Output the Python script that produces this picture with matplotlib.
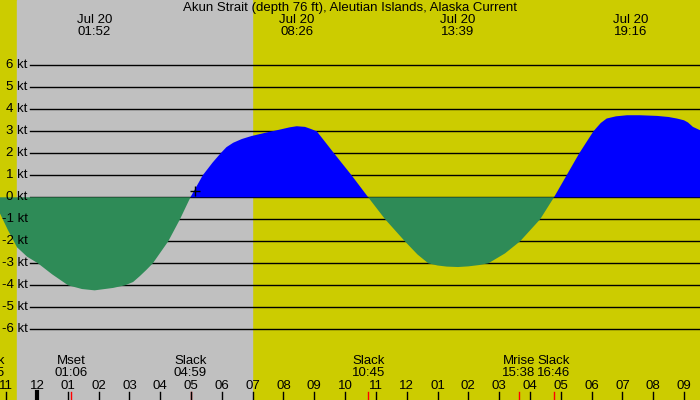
import matplotlib
matplotlib.use("Agg")
import matplotlib.pyplot as plt
import numpy as np
from matplotlib import transforms

plt.rcParams["font.family"] = ["Liberation Sans", "DejaVu Sans"]

TITLE = "Akun Strait (depth 76 ft), Aleutian Islands, Alaska Current"

# current speed (kt) vs hours after midnight Jul 20 (negative = ebb)
hours = [-1.59, -1.20, -0.94, -0.65, -0.32, 0.03, 0.49, 1.01, 1.46, 1.87,
         2.47, 2.86, 3.12, 3.34, 3.55, 3.76, 4.26, 4.64, 4.98,
         5.38, 5.70, 5.96, 6.15, 6.37, 6.65, 6.95, 7.40, 7.89, 8.20, 8.43,
         8.70, 8.90, 9.08, 9.35, 9.64, 10.21, 10.75,
         11.30, 11.94, 12.35, 12.70, 13.00, 13.30, 13.66, 14.00, 14.35,
         14.65, 15.19, 15.68, 16.33, 16.78,
         17.19, 17.60, 18.06, 18.30, 18.49, 18.79, 19.15, 19.57, 20.12,
         20.50, 20.77, 21.00, 21.13, 21.29, 21.52, 21.84]
speed = [0.0, -0.74, -1.5, -2.27, -2.70, -3.0, -3.5, -4.0, -4.17, -4.23,
         -4.12, -4.0, -3.85, -3.58, -3.30, -3.0, -2.0, -1.0, 0.0,
         1.0, 1.58, 2.0, 2.28, 2.48, 2.65, 2.78, 2.93, 3.08, 3.18, 3.23,
         3.20, 3.10, 3.0, 2.52, 2.0, 1.0, 0.0,
         -1.0, -2.0, -2.60, -3.0, -3.10, -3.15, -3.17, -3.14, -3.08,
         -3.0, -2.55, -2.0, -1.0, 0.0,
         1.0, 2.0, 3.0, 3.38, 3.58, 3.68, 3.73, 3.73, 3.70,
         3.65, 3.58, 3.50, 3.40, 3.2, 3.05, 2.7]

# max current labels (top)
peak_hours = [1.867, 8.433, 13.65, 19.267]
peak_labels = ["01:52", "08:26", "13:39", "19:16"]
date_label = "Jul 20"

# events (bottom)
event_hours = [-1.583, 1.10, 4.983, 10.75, 15.633, 16.767]
event_names = ["Slack", "Mset", "Slack", "Slack", "Mrise", "Slack"]
event_times = ["22:25", "01:06", "04:59", "10:45", "15:38", "16:46"]

# night (sunset / sunrise)
sunset, sunrise = -0.65, 6.98

kt_levels = list(range(-6, 7))
hour_ticks = list(range(-1, 22))

now_hour, now_speed = 5.13, 0.3

YELLOW = "#cccc00"
GRAY = "#c0c0c0"
BLUE = "#0000ff"
GREEN = "#2e8b57"
FS = 9.5

fig = plt.figure(figsize=(7, 4), dpi=100)
ax = fig.add_axes([0, 0, 1, 1])
ax.set_xlim(-1.2009, 21.519)
ax.set_ylim(-9.214, 8.968)
ax.set_facecolor(YELLOW)
for s in ax.spines.values():
    s.set_visible(False)
ax.set_xticks([])
ax.set_yticks([])

ax.axvspan(sunset, sunrise, color=GRAY, zorder=0)

for k in kt_levels:
    ax.axhline(k, xmin=30 / 700, xmax=1, color="black", lw=1, zorder=1)
    ax.text(-0.30, k, f"{k} kt", ha="right", va="center", fontsize=FS, zorder=4)

h = np.array(hours)
v = np.array(speed)
ax.fill_between(h, v, 0, where=v >= 0, color=BLUE, lw=0, interpolate=True, zorder=2)
ax.fill_between(h, v, 0, where=v <= 0, color=GREEN, lw=0, interpolate=True, zorder=2)

ax.plot([now_hour], [now_speed], marker="+", color="black", ms=7, mew=1, zorder=3)

top = transforms.blended_transform_factory(ax.transData, ax.transAxes)


def fy(px):
    return 1 - px / 400


ax.text(0.5, fy(7.5), TITLE, transform=ax.transAxes, ha="center", va="center", fontsize=9.5)

for ph, pl in zip(peak_hours, peak_labels):
    ax.text(ph, fy(20), date_label, transform=top, ha="center", va="center", fontsize=FS)
    ax.text(ph, fy(32), pl, transform=top, ha="center", va="center", fontsize=FS)

for eh, en, et in zip(event_hours, event_names, event_times):
    ax.text(eh, fy(361.5), en, transform=top, ha="center", va="center", fontsize=FS)
    ax.text(eh, fy(373.5), et, transform=top, ha="center", va="center", fontsize=FS)
    ax.plot([eh, eh], [0, 8 / 400], transform=top, color="red", lw=1, zorder=3)

for t in hour_ticks:
    lab = f"{(t - 1) % 12 + 1:02d}"
    ax.text(t, fy(386), lab, transform=top, ha="center", va="center", fontsize=FS)
    ax.plot([t, t], [0, 8 / 400], transform=top, color="black",
            lw=3 if t == 0 else 1, zorder=3)

fig.savefig("out.png", dpi=100)
